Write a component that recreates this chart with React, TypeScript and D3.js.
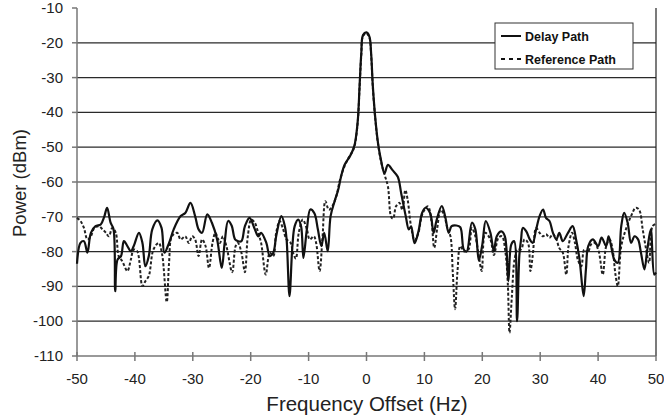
import React from "react";
import * as d3 from "d3";

const xTicks = [-50, -40, -30, -20, -10, 0, 10, 20, 30, 40, 50];
const yTicks = [-10, -20, -30, -40, -50, -60, -70, -80, -90, -100, -110];
const legendLabels = ["Delay Path", "Reference Path"];

const delayFreq = [
  -50, -49.4, -48.8, -48.2, -47.6, -46.8, -45.9, -45.3, -44.8, -44.2, -43.7, -43.4, -43.0, -42.4, -41.9, -41.3,
  -40.7, -40.2, -39.3, -38.7, -38.2, -37.6, -37.0, -36.1, -35.4, -34.9, -34.1, -33.3, -32.1, -31.3, -30.4, -29.6,
  -29.0, -28.4, -27.5, -26.7, -25.8, -25.0, -24.5, -23.9, -23.3, -22.7, -22.2, -21.6, -21.0, -20.2, -19.3, -18.7,
  -18.2, -17.3, -16.7, -16.1, -15.6, -14.7, -14.1, -13.8, -13.3, -12.8, -12.4, -11.8, -11.3, -10.9, -10.3, -9.7,
  -9.0, -8.4, -7.8, -7.3, -6.7, -6.2, -5.5, -4.9, -4.4, -3.8, -2.9, -2.35, -2.0, -1.5, -1.2, -0.9,
  -0.6, 0, 0.5, 0.8, 1.1, 1.55, 2.0, 2.5, 3.1, 3.7, 4.5, 5.4, 6.0, 6.8, 7.3, 7.7,
  8.3, 9.0, 9.6, 10.2, 11.0, 11.6, 12.1, 13.0, 13.6, 14.2, 14.7, 15.5, 16.2, 16.8, 17.3, 18.2,
  18.8, 19.4, 20.0, 20.6, 21.4, 22.0, 22.5, 23.3, 23.9, 24.5, 25.0, 25.5, 26.0, 26.4, 26.7, 27.0,
  27.6, 28.2, 28.7, 29.3, 29.9, 30.5, 31.0, 31.6, 32.2, 32.8, 33.3, 33.9, 34.8, 35.6, 36.2, 36.8,
  37.5, 37.9, 38.3, 39.1, 40.0, 40.6, 41.4, 41.8, 42.2, 42.8, 43.4, 44.0, 44.5, 45.1, 45.7, 46.3,
  46.9, 47.4, 48.0, 48.5, 49.1, 49.7, 50,
];
const delayPower = [
  -83.5, -77.5, -77, -80.3, -74.6, -72.7, -72.2, -70, -67.4, -71.7, -73.5, -91.4, -82.3, -81.3, -77, -78.4,
  -79.9, -78.4, -74.6, -77.5, -84.2, -81.3, -73.6, -71, -73.2, -80.3, -77.5, -73.6, -69.8, -68.9, -66, -69.8,
  -73.6, -74.6, -69.3, -71.7, -76.5, -84.7, -77.5, -71.2, -72.5, -76.5, -77, -77, -72.7, -70.3, -73.5, -75.6,
  -74.6, -77.5, -81.3, -80.3, -75.6, -69.8, -72.7, -76.5, -92.8, -78.4, -72.7, -70.8, -72.7, -81.8, -73.6, -67.9,
  -69, -73.6, -78.4, -74.6, -79.9, -69.8, -65.5, -62.3, -58.5, -55.1, -52.7, -50.8, -48.9, -42.2, -32.6, -23,
  -17.8, -17, -18.2, -23, -32.6, -42.2, -48.9, -53.7, -57.5, -55.1, -56.6, -58.5, -63.3, -70, -73.6, -72.8,
  -77.6, -74, -68.9, -67.4, -69, -74.6, -71, -66.9, -70, -74.6, -72.7, -72.5, -73, -79.4, -80, -71.7,
  -73.6, -82.5, -78, -71.2, -74.6, -79.9, -75.6, -74.2, -75.6, -88.5, -78, -77, -100, -81, -76.5, -73.2,
  -74.2, -76.5, -77.5, -73.6, -69.8, -67.9, -70.3, -71.2, -74.6, -76.5, -74.6, -77, -74.6, -72.7, -76.5, -82.3,
  -92.8, -85.1, -78.4, -76.5, -78.4, -76, -78.4, -75.6, -78, -82.3, -83.2, -72.7, -68.9, -71.7, -77.5, -75.6,
  -76.5, -80.3, -85.1, -79.4, -73.6, -86.6, -86,
];

const refFreq = [
  -50, -49.4, -48.8, -48.2, -47.6, -47.0, -46.2, -45.6, -45.0, -44.5, -43.9, -43.3, -42.8, -42.2, -41.3, -40.7,
  -40.2, -39.6, -38.7, -38.2, -37.6, -36.8, -35.9, -35.3, -34.5, -34.1, -33.6, -32.7, -32.1, -31.3, -30.7, -30.1,
  -29.6, -29.0, -28.4, -27.8, -27.2, -26.6, -26.1, -25.6, -25.3, -24.8, -24.2, -23.2, -22.6, -22.2, -21.6, -21.0,
  -20.5, -19.9, -19.3, -18.7, -18.2, -17.4, -16.7, -16.1, -15.6, -15.0, -14.4, -13.8, -13.1, -12.7, -12.2, -11.7,
  -11.0, -10.3, -9.8, -9.1, -8.7, -8.1, -7.6, -7.1, -6.5, -5.9, -5.2, -4.6, -3.8, -2.9, -2.35, -2.0,
  -1.5, -1.2, -0.9, -0.6, 0, 0.5, 0.8, 1.1, 1.55, 2.0, 2.5, 3.1, 3.7, 4.25, 4.6, 5.1,
  5.7, 6.2, 6.7, 7.1, 7.7, 8.3, 8.9, 9.7, 10.6, 11.2, 11.7, 12.2, 12.8, 13.4, 14.0, 14.5,
  14.9, 15.3, 15.7, 16.2, 16.8, 17.6, 18.2, 18.8, 19.4, 19.9, 20.5, 21.4, 22.0, 22.8, 23.4, 24.0,
  24.4, 24.7, 25.1, 25.6, 26.1, 26.7, 27.3, 27.9, 28.3, 28.7, 29.3, 29.9, 30.5, 31.0, 31.6, 32.2,
  32.8, 33.3, 33.9, 34.5, 34.9, 35.5, 36.0, 36.5, 37.1, 37.6, 38.2, 38.8, 39.4, 40.1, 40.8, 41.4,
  42.0, 42.5, 43.0, 43.4, 44.0, 44.8, 45.7, 46.5, 47.1, 47.7, 48.3, 48.8, 49.4, 50,
];
const refPower = [
  -70.3, -71.2, -73.2, -76.5, -75.6, -73.2, -72.7, -73.6, -74.6, -75.6, -73.2, -74.6, -81.3, -82.7, -85.6, -82.3,
  -79.4, -79.9, -89.9, -88.5, -87, -79.4, -77.5, -80.8, -94.5, -83.2, -75.6, -74.6, -76.5, -75.6, -77.5, -75.6,
  -76.5, -81.3, -76.5, -78.4, -84.7, -77.5, -74.6, -76.5, -77.5, -75.6, -78.4, -85.9, -78.4, -77.5, -80.3, -85.9,
  -75.6, -70.8, -71.7, -74.6, -77.5, -86.6, -80.3, -81.3, -74.6, -71.2, -73.6, -76.5, -77.5, -80.3, -82, -74.6,
  -70.8, -73.6, -76.5, -75.6, -77.5, -85.6, -76, -65.5, -68, -66.9, -64, -59.5, -55.5, -52.5, -51, -49.2,
  -42.5, -33, -23.5, -18, -17.3, -18.5, -23.5, -33, -42.5, -49.2, -54, -57.8, -61.3, -70, -70.5, -67,
  -66, -68, -62.3, -65, -72.8, -76.7, -75, -69, -67, -71, -78.9, -73.5, -68, -69.5, -73.5, -75.6,
  -86, -96.6, -86, -78.4, -79.9, -79.4, -73.2, -75.6, -81.3, -85.6, -74.6, -76.5, -81, -76, -75.6, -80.3,
  -89, -103.3, -93, -82, -79.4, -79.4, -76.5, -77.5, -85.6, -81.3, -73.2, -74.6, -75.6, -75, -76, -75,
  -76.5, -79, -80.3, -86.6, -78.4, -74.6, -77.5, -82.3, -84.2, -79.4, -80.3, -77.9, -77.5, -79.9, -86.6, -78.4,
  -76.5, -79.4, -86.6, -89.9, -78.4, -73.6, -69.8, -67.4, -68, -73.6, -79.4, -83.2, -72.7, -72,
];

const W = 664;
const H = 419;
const left = 77;
const right = 656;
const top = 8;
const bottom = 356;

export default function App() {
  const x = d3.scaleLinear().domain([-50, 50]).range([left, right]);
  const y = d3.scaleLinear().domain([-110, -10]).range([bottom, top]);
  const line = d3
    .line<[number, number]>()
    .x((d) => x(d[0]))
    .y((d) => y(d[1]))
    .curve(d3.curveCatmullRom.alpha(0.5));
  const delayPts: [number, number][] = delayFreq.map((f, i) => [f, delayPower[i]]);
  const refPts: [number, number][] = refFreq.map((f, i) => [f, refPower[i]]);
  const font = "'Liberation Sans', Arial, sans-serif";

  const lx = 495;
  const ly = 23;
  const lw = 138;
  const lh = 46;

  return (
    <svg width={W} height={H} style={{ position: "absolute", left: 0, top: 0, background: "#fff" }}>
      <rect x={0} y={0} width={W} height={H} fill="#fff" />
      {yTicks
        .filter((t) => t !== -10 && t !== -110)
        .map((t) => (
          <line key={"g" + t} x1={left} x2={right} y1={y(t)} y2={y(t)} stroke="#2a2a2a" strokeWidth={1.2} />
        ))}
      <line x1={left} x2={left} y1={top} y2={bottom} stroke="#777" strokeWidth={1.5} />
      <line x1={left} x2={right} y1={bottom} y2={bottom} stroke="#777" strokeWidth={1.5} />
      <line x1={right} x2={right} y1={top} y2={bottom} stroke="#222" strokeWidth={1.2} />
      {yTicks.map((t) => (
        <g key={"yt" + t}>
          <line x1={left - 5} x2={left} y1={y(t)} y2={y(t)} stroke="#777" strokeWidth={1.5} />
          <text x={63} y={y(t) + 5} textAnchor="end" fontFamily={font} fontSize={15} fill="#222">
            {t}
          </text>
        </g>
      ))}
      {xTicks.map((t) => (
        <g key={"xt" + t}>
          <line x1={x(t)} x2={x(t)} y1={bottom - 4} y2={bottom + 5} stroke="#777" strokeWidth={1.5} />
          <text x={x(t)} y={384} textAnchor="middle" fontFamily={font} fontSize={15} fill="#222">
            {t}
          </text>
        </g>
      ))}
      <path d={line(refPts) || ""} fill="none" stroke="#222" strokeWidth={2} strokeDasharray="3,2" />
      <path d={line(delayPts) || ""} fill="none" stroke="#111" strokeWidth={2.2} />
      <text x={367} y={411} textAnchor="middle" fontFamily={font} fontSize={20.5} fill="#222">
        Frequency Offset (Hz)
      </text>
      <text
        transform={`translate(26,183) rotate(-90)`}
        textAnchor="middle"
        fontFamily={font}
        fontSize={18.5}
        fill="#222"
      >
        Power (dBm)
      </text>
      <rect x={lx} y={ly} width={lw} height={lh} fill="#fff" stroke="#333" strokeWidth={1} />
      <line x1={lx + 6} x2={lx + 26} y1={ly + 13} y2={ly + 13} stroke="#111" strokeWidth={2} />
      <line x1={lx + 6} x2={lx + 26} y1={ly + 36} y2={ly + 36} stroke="#111" strokeWidth={2} strokeDasharray="4,4" />
      <text x={lx + 30} y={ly + 17.5} fontFamily={font} fontSize={12.5} fontWeight="bold" fill="#111">
        {legendLabels[0]}
      </text>
      <text x={lx + 30} y={ly + 40.5} fontFamily={font} fontSize={12.5} fontWeight="bold" fill="#111">
        {legendLabels[1]}
      </text>
    </svg>
  );
}
